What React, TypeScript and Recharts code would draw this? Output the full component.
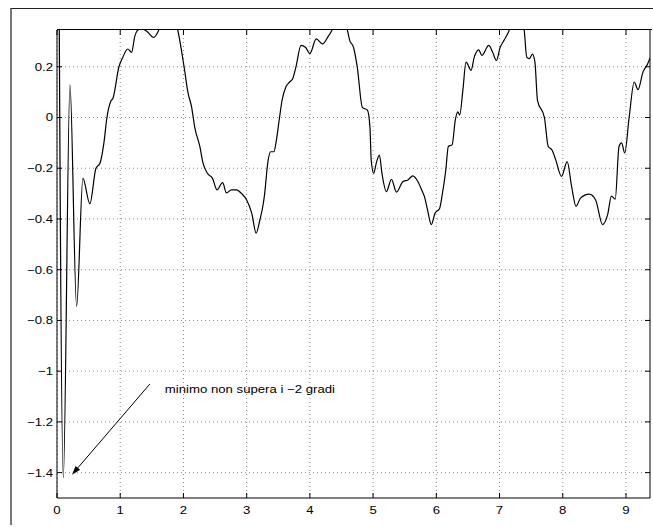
import React from "react";
import {
  LineChart,
  Line,
  XAxis,
  YAxis,
  CartesianGrid,
  ReferenceLine,
  ReferenceDot,
} from "recharts";

// time axis (s) and angle values
const tSec = [
  0, 0.1, 0.205, 0.31, 0.41, 0.52, 0.616, 0.68, 0.742, 0.79, 0.853, 0.884, 0.98, 1.04, 1.12,
  1.18, 1.23, 1.28, 1.34, 1.42, 1.53, 1.61, 1.69, 1.8, 1.91, 2.01, 2.07, 2.13, 2.18, 2.26,
  2.31, 2.38, 2.46, 2.53, 2.62, 2.68, 2.76, 2.84, 2.92, 3.0, 3.08, 3.15, 3.21, 3.26, 3.28,
  3.34, 3.38, 3.43, 3.47, 3.52, 3.56, 3.62, 3.68, 3.73, 3.78, 3.86, 3.93, 4.0, 4.1, 4.2,
  4.28, 4.35, 4.45, 4.58, 4.63, 4.69, 4.75, 4.83, 4.91, 4.95, 4.97, 5.01, 5.05, 5.1, 5.14,
  5.21, 5.29, 5.37, 5.47, 5.55, 5.63, 5.71, 5.78, 5.81, 5.86, 5.92, 5.98, 6.05, 6.09, 6.15,
  6.19, 6.25, 6.3, 6.34, 6.37, 6.42, 6.47, 6.55, 6.6, 6.67, 6.72, 6.83, 6.89, 6.95, 7.01,
  7.07, 7.14, 7.26, 7.33, 7.39, 7.43, 7.47, 7.52, 7.56, 7.6, 7.71, 7.77, 7.83, 7.89, 7.98,
  8.07, 8.14, 8.21, 8.28, 8.42, 8.52, 8.63, 8.71, 8.77, 8.83, 8.89, 8.93, 8.98, 9.05, 9.13,
  9.19, 9.27, 9.34, 9.38,
];
const angle = [
  2.2, -1.42, 0.13, -0.745, -0.24, -0.34, -0.2, -0.18, -0.1, 0, 0.065, 0.075, 0.2, 0.237, 0.27,
  0.257, 0.32, 0.345, 0.35, 0.34, 0.316, 0.345, 0.4, 0.42, 0.345, 0.2, 0.1, 0.04, -0.04, -0.115,
  -0.18, -0.22, -0.24, -0.285, -0.257, -0.297, -0.285, -0.285, -0.3, -0.325, -0.377, -0.456, -0.403, -0.344, -0.31,
  -0.168, -0.135, -0.135, -0.09, 0, 0.068, 0.12, 0.14, 0.154, 0.2, 0.284, 0.277, 0.252, 0.31, 0.29,
  0.316, 0.345, 0.42, 0.36, 0.304, 0.277, 0.198, 0.04, 0.029, -0.037, -0.168, -0.22, -0.18, -0.148, -0.22,
  -0.292, -0.244, -0.294, -0.253, -0.246, -0.23, -0.253, -0.292, -0.31, -0.363, -0.422, -0.377, -0.36, -0.31, -0.207,
  -0.114, -0.108, -0.01, 0.022, 0.01, 0.108, 0.218, 0.186, 0.238, 0.267, 0.245, 0.284, 0.258, 0.225, 0.277,
  0.304, 0.336, 0.42, 0.4, 0.345, 0.238, 0.232, 0.25, 0.218, 0.068, 0, -0.114, -0.128, -0.168, -0.232,
  -0.174, -0.272, -0.35, -0.318, -0.302, -0.325, -0.422, -0.383, -0.31, -0.322, -0.114, -0.1, -0.14, 0, 0.14,
  0.11, 0.18, 0.21, 0.235,
];

const xTicks = [0, 1, 2, 3, 4, 5, 6, 7, 8, 9];
const yTicks = [-1.4, -1.2, -1, -0.8, -0.6, -0.4, -0.2, 0, 0.2];
const xDomain = [0, 9.38];
const yDomain = [-1.5, 0.345];

const noteText = "minimo non supera i \u22122 gradi";
const notePos = [1.705, -1.071];
const arrowFrom = [1.468, -1.051];
const arrowTo = [0.237, -1.408];

const data = tSec.map((t, i) => ({ t, v: angle[i] }));

const FONT = '"Liberation Sans", Arial, Helvetica, sans-serif';
const minus = (v: number) => String(v).replace("-", "\u2212");

function LeftTick({ x, y, payload }: any) {
  return (
    <g transform={`translate(${x},${y}) scale(1.2,1)`}>
      <text x={0} y={0} dy="0.36em" textAnchor="end" fontSize={11} fontFamily={FONT} fill="#000">
        {minus(payload.value)}
      </text>
    </g>
  );
}

function BottomTick({ x, y, payload }: any) {
  return (
    <g transform={`translate(${x},${y}) scale(1.2,1)`}>
      <text x={0} y={0} dy="0.71em" textAnchor="middle" fontSize={11} fontFamily={FONT} fill="#000">
        {minus(payload.value)}
      </text>
    </g>
  );
}

// short inward tick hanging from the top frame edge
function TopTick(p: any) {
  const { x1, y1, y2 } = p;
  if (x1 == null || y1 == null || y2 == null) return null;
  const top = Math.min(y1, y2);
  return <line x1={x1} x2={x1} y1={top} y2={top + 5} stroke="#000" strokeWidth={1} />;
}

function Arrow(p: any) {
  const { x1, y1, x2, y2 } = p;
  if ([x1, y1, x2, y2].some((n) => n == null || isNaN(n))) return null;
  const ang = Math.atan2(y2 - y1, x2 - x1);
  const len = 9;
  const half = 3;
  const bx = x2 - len * Math.cos(ang);
  const by = y2 - len * Math.sin(ang);
  const nx = -Math.sin(ang) * half;
  const ny = Math.cos(ang) * half;
  return (
    <g>
      <line x1={x1} y1={y1} x2={bx} y2={by} stroke="#000" strokeWidth={1} />
      <polygon points={`${x2},${y2} ${bx + nx},${by + ny} ${bx - nx},${by - ny}`} fill="#000" />
    </g>
  );
}

function Note(p: any) {
  const { cx, cy } = p;
  if (cx == null || cy == null) return null;
  return (
    <g transform={`translate(${cx},${cy}) scale(1.2,1)`}>
      <text x={0} y={0} dy="0.36em" textAnchor="start" fontSize={11} fontFamily={FONT} fill="#000">
        {noteText}
      </text>
    </g>
  );
}

export default function App() {
  return (
    <div style={{ position: "absolute", left: 0, top: 0, width: 653, height: 527, background: "#fff" }}>
      {/* figure frame */}
      <div
        style={{
          position: "absolute",
          left: 10,
          top: 8,
          width: 643,
          height: 517,
          boxSizing: "border-box",
          borderTop: "1px solid #222",
          borderLeft: "2px solid #777",
        }}
      />
      <div style={{ position: "absolute", left: 0, top: 0 }}>
        <LineChart width={653} height={527} data={data} margin={{ top: 30, right: 2, bottom: 0, left: 7 }}>
          <CartesianGrid
            xAxisId="bottom"
            yAxisId="left"
            stroke="#8a8a8a"
            strokeDasharray="1 3"
            horizontalValues={yTicks}
            verticalValues={xTicks}
          />
          <XAxis
            xAxisId="bottom"
            dataKey="t"
            type="number"
            domain={xDomain}
            ticks={xTicks}
            interval={0}
            allowDataOverflow
            height={29}
            tickSize={-5}
            tickMargin={13}
            axisLine={{ stroke: "#000" }}
            tickLine={{ stroke: "#000" }}
            tick={<BottomTick />}
          />
          <YAxis
            yAxisId="left"
            type="number"
            domain={yDomain}
            ticks={yTicks}
            interval={0}
            allowDataOverflow
            width={50}
            tickSize={-5}
            tickMargin={9}
            axisLine={{ stroke: "#000" }}
            tickLine={{ stroke: "#000" }}
            tick={<LeftTick />}
          />
          <YAxis
            yAxisId="right"
            orientation="right"
            type="number"
            domain={yDomain}
            ticks={yTicks}
            interval={0}
            allowDataOverflow
            width={1}
            tickSize={-5}
            axisLine={{ stroke: "#000" }}
            tickLine={{ stroke: "#000" }}
            tickFormatter={() => ""}
          />
          <Line
            xAxisId="bottom"
            yAxisId="left"
            type="monotone"
            dataKey="v"
            stroke="#000"
            strokeWidth={1.2}
            dot={false}
            isAnimationActive={false}
          />
          {xTicks.map((t) => (
            <ReferenceLine
              key={t}
              xAxisId="bottom"
              yAxisId="left"
              x={t}
              ifOverflow="visible"
              shape={(p: any) => <TopTick {...p} />}
            />
          ))}
          <ReferenceLine
            xAxisId="bottom"
            yAxisId="left"
            ifOverflow="visible"
            segment={[
              { x: arrowFrom[0], y: arrowFrom[1] },
              { x: arrowTo[0], y: arrowTo[1] },
            ]}
            shape={(p: any) => <Arrow {...p} />}
          />
          <ReferenceDot
            xAxisId="bottom"
            yAxisId="left"
            x={notePos[0]}
            y={notePos[1]}
            r={0}
            ifOverflow="visible"
            shape={(p: any) => <Note {...p} />}
          />
        </LineChart>
      </div>
      {/* top edge of the axes box */}
      <div
        style={{
          position: "absolute",
          left: 57,
          top: 29,
          width: 595,
          height: 0,
          borderTop: "1px solid #000",
          pointerEvents: "none",
        }}
      />
    </div>
  );
}
